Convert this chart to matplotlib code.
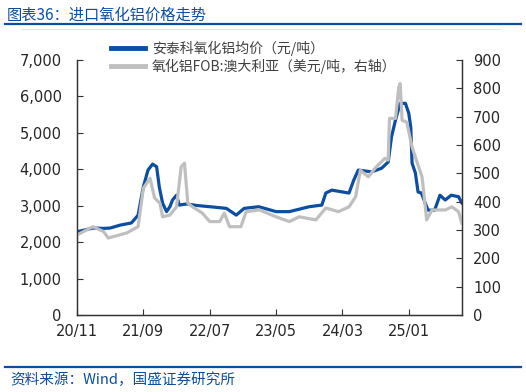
"""进口氧化铝价格走势 (图表36)."""

import matplotlib

matplotlib.use("Agg")
import matplotlib.pyplot as plt
from matplotlib.lines import Line2D
from matplotlib.ticker import FuncFormatter

plt.rcParams["font.family"] = ["Noto Sans CJK SC", "DejaVu Sans"]

# months after 2020-11
BLUE_M = [0, 1, 2.4, 4, 5, 6.5, 8.2, 9.2, 10, 10.7,
          11.4, 12, 12.4, 12.9, 13.5, 14, 14.4, 15, 15.4, 16.5,
          18, 20, 22.5, 24, 25.2, 27.4, 30, 32, 35, 36.9,
          37.5, 38.4, 41, 41.7, 42.4, 44.4, 45.9, 46.9, 47.4, 48,
          48.7, 49.5, 50, 50.3, 50.5, 51, 51.4, 51.9, 52.9, 53.9,
          54.7, 55.5, 56.4, 57.5, 58]
BLUE_V = [2290, 2330, 2390, 2380, 2390, 2470, 2530, 2740, 3520, 3980,
          4145, 4070, 3520, 3070, 2840, 2975, 3160, 3290, 3020, 3050,
          3010, 2975, 2930, 2745, 2930, 2975, 2840, 2840, 2975, 3020,
          3350, 3430, 3350, 3700, 3980, 3930, 4030, 4200, 4890, 5350,
          5810, 5810, 5540, 5160, 4170, 3900, 3380, 3350, 2880, 2880,
          3290, 3160, 3290, 3250, 3080]

GRAY_M = [0, 2.4, 4, 4.7, 7.5, 9.2, 10, 11, 11.7, 12.5,
          12.9, 14, 15, 15.7, 16.2, 16.7, 17.4, 18.9, 20, 21.5,
          22.2, 23, 24.7, 25.5, 27.5, 30, 32, 33.5, 36, 37.5,
          39.4, 41, 42, 42.7, 43.9, 45.1, 46.4, 46.9, 47.1, 48,
          48.5, 48.7, 49, 49.7, 50.5, 51.3, 52, 52.7, 53.5, 55.5,
          56.5, 57.5, 58]
GRAY_V = [283, 312, 295, 272, 290, 312, 448, 483, 413, 395,
          347, 353, 382, 523, 536, 395, 382, 360, 330, 330,
          360, 312, 312, 365, 371, 347, 330, 347, 336, 378,
          365, 382, 418, 511, 488, 523, 553, 547, 694, 694,
          804, 817, 687, 681, 593, 536, 488, 336, 371, 371,
          382, 365, 325]

X_TICKS = [0, 10, 20, 30, 40, 50]
X_LABELS = ["20/11", "21/09", "22/07", "23/05", "24/03", "25/01"]

BLUE = "#0B4EA2"
GRAY = "#BFBFBF"
TXT = "#262626"

fig = plt.figure(figsize=(5.26, 3.92), dpi=100)
ax = fig.add_axes([0.1464, 0.196, 0.7316, 0.651])
ax2 = ax.twinx()

ax.plot(BLUE_M, BLUE_V, color=BLUE, lw=2.3, solid_joinstyle="round")
ax2.plot(GRAY_M, GRAY_V, color=GRAY, lw=2.3, solid_joinstyle="round")

ax.set_xlim(0, 58)
ax.set_ylim(0, 7000)
ax2.set_ylim(0, 900)
ax.set_yticks(range(0, 7001, 1000))
ax2.set_yticks(range(0, 901, 100))
ax.yaxis.set_major_formatter(FuncFormatter(lambda v, p: f"{int(v):,}"))
ax.set_xticks(X_TICKS)
ax.set_xticklabels(X_LABELS)

for a in (ax, ax2):
    a.spines["top"].set_visible(False)
    for s in ("left", "right", "bottom"):
        a.spines[s].set_linewidth(0.9)
        a.spines[s].set_color("#333333")
    a.tick_params(direction="in", length=4, width=0.8, colors="#333333",
                  labelcolor=TXT, labelsize=10.5)
    for lab in a.get_yticklabels() + a.get_xticklabels():
        lab.set_family("DejaVu Sans")
ax.tick_params(axis="y", pad=11)
ax2.tick_params(axis="y", pad=8)
ax.tick_params(axis="x", pad=6)

handles = [Line2D([], [], color=BLUE, lw=3.5),
           Line2D([], [], color=GRAY, lw=3.5)]
labels = ["安泰科氧化铝均价（元/吨）", "氧化铝FOB:澳大利亚（美元/吨，右轴）"]
fig.legend(handles, labels, loc="upper left", bbox_to_anchor=(0.188, 0.928),
           frameon=False, fontsize=10, handlelength=2.4, handletextpad=0.5,
           labelspacing=0.2, labelcolor="#404040")

# header / footer
fig.text(0.012, 0.962, "图表36：进口氧化铝价格走势", color=BLUE, fontsize=11,
         va="center")
fig.add_artist(Line2D([0.01, 0.99], [0.938, 0.938], color=BLUE, lw=1.6))
fig.add_artist(Line2D([0.04, 0.95], [0.926, 0.926], color="#E0E0E0", lw=0.6))
fig.add_artist(Line2D([0.01, 0.99], [0.064, 0.064], color=BLUE, lw=1.6))
fig.text(0.02, 0.03, "资料来源：Wind，国盛证券研究所", color=BLUE, fontsize=10.5,
         va="center")

fig.savefig("out.png", dpi=100)
